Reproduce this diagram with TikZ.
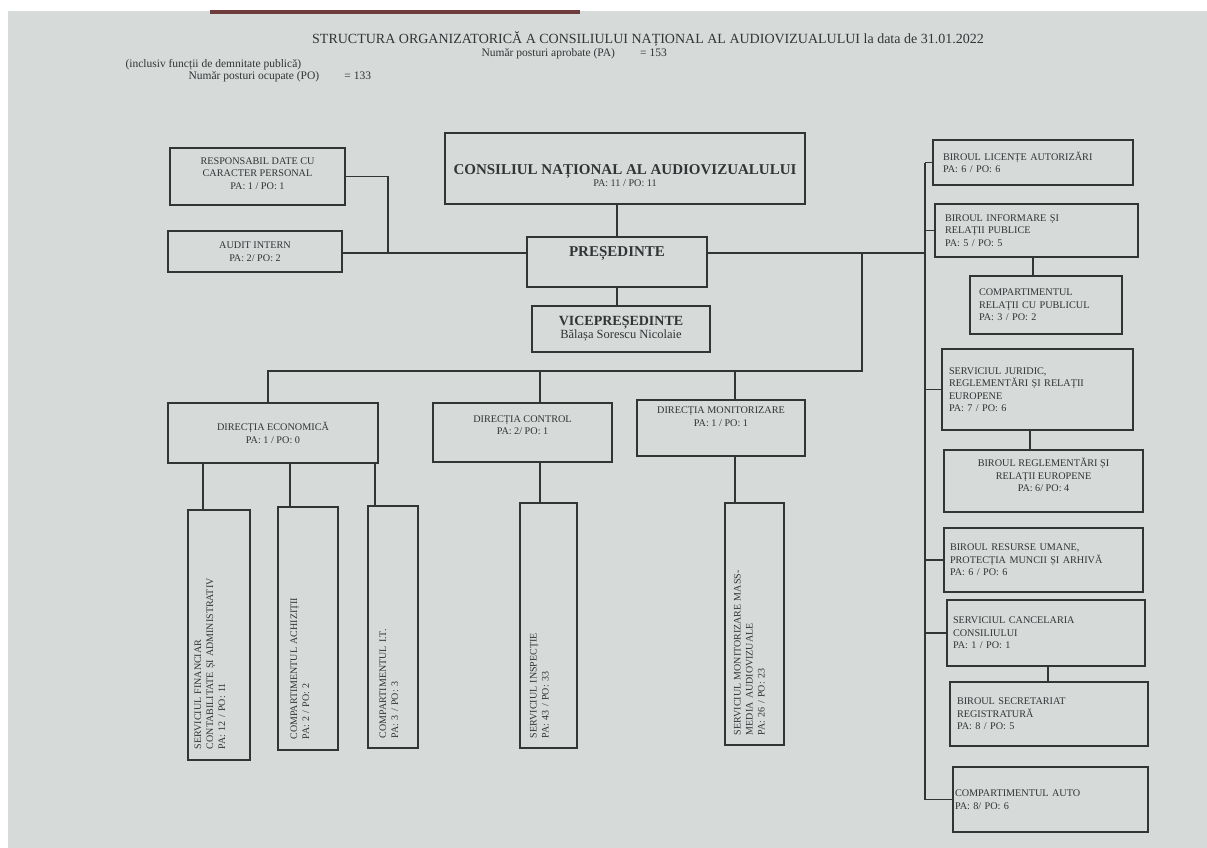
\documentclass[tikz,border=0pt]{standalone}
\usepackage{fontspec}
\setmainfont{Liberation Serif}
\definecolor{paper}{RGB}{214,218,217}
\definecolor{ink}{RGB}{50,52,53}
\definecolor{bar}{RGB}{110,60,60}
\begin{document}
\begin{tikzpicture}[x=1pt,y=-1pt,
  every node/.style={text=ink},
  box/.style={draw=ink,line width=1.1pt,inner sep=0pt,align=center},
  lbox/.style={box,align=left,text width=#1},
  vbox/.style={draw=ink,line width=1.1pt,inner sep=0pt},
  vtext/.style={rotate=90,align=left,inner sep=0pt,font=\fontsize{10}{12}\selectfont},
  small/.style={font=\fontsize{10.2}{12.5}\selectfont},
  head/.style={font=\fontsize{11.5}{13}\selectfont,anchor=west},
  conn/.style={draw=ink,line width=1.1pt}]
\useasboundingbox (0,0) rectangle (1207,848);
\fill[white] (0,0) rectangle (1207,848);
\fill[paper] (8,11) rectangle (1207,848);
\fill[bar] (210,10) rectangle (580,14);
% header
\node[font=\fontsize{14}{16}\selectfont] (title) at (648,39) {STRUCTURA ORGANIZATORICĂ A CONSILIULUI NAȚIONAL AL AUDIOVIZUALULUI la data de 31.01.2022};
\node[head] (pa) at (478,54) {Număr posturi aprobate (PA)\hspace{2.2em}= 153};
\node[head] (incl) at (122,65) {(inclusiv funcții de demnitate publică)};
\node[head] (po) at (185,77) {Număr posturi ocupate (PO)\hspace{2.2em}= 133};
% top boxes
\node[box,small,minimum width=175,minimum height=57] (resp) at (257.5,176.5) {RESPONSABIL DATE CU\\CARACTER PERSONAL\\PA: 1 / PO: 1\\[-6pt]};
\node[box,small,minimum width=174,minimum height=41] (audit) at (255,251.5) {AUDIT INTERN\\PA: 2/ PO: 2};
\node[box,minimum width=360,minimum height=71] (cna) at (625,168.5) {\rule{0pt}{24pt}{\fontsize{15}{17}\selectfont\bfseries CONSILIUL NAȚIONAL AL AUDIOVIZUALULUI}\\{\fontsize{10.2}{12}\selectfont PA: 11 / PO: 11}};
\node[box,minimum width=180,minimum height=50,font=\fontsize{15}{17}\bfseries] (pres) at (617,262) {PREȘEDINTE\\[3pt]};
\node[box,minimum width=178,minimum height=46] (vice) at (621,329) {{\fontsize{14}{15}\selectfont\bfseries VICEPREȘEDINTE}\\{\fontsize{12.5}{14}\selectfont Bălașa Sorescu Nicolaie}};
% directions
\node[box,small,minimum width=210,minimum height=60] (de) at (273,433) {DIRECȚIA ECONOMICĂ\\PA: 1 / PO: 0};
\node[box,small,minimum width=179,minimum height=59] (dc) at (522.5,432.5) {DIRECȚIA CONTROL\\PA: 2/ PO: 1\\[2pt]};
\node[box,small,minimum width=168,minimum height=56] (dm) at (721,428) {DIRECȚIA MONITORIZARE\\PA: 1 / PO: 1\\[10pt]};
% vertical boxes
\node[vbox,minimum width=62,minimum height=250] (sfc) at (219,635) {};
\node[vtext,text width=228] (sfct) at ([xshift=-9pt]sfc.center) {SERVICIUL FINANCIAR\\CONTABILITATE ȘI ADMINISTRATIV\\PA: 12 / PO: 11};
\node[vbox,minimum width=60,minimum height=243] (ach) at (308,628.5) {};
\node[vtext,text width=222] (acht) at ([xshift=-8pt]ach.center) {COMPARTIMENTUL ACHIZIȚII\\PA: 2 / PO: 2};
\node[vbox,minimum width=50,minimum height=242] (it) at (393,627) {};
\node[vtext,text width=222] (itt) at ([xshift=-4pt]it.center) {COMPARTIMENTUL I.T.\\PA: 3 / PO: 3};
\node[vbox,minimum width=57,minimum height=245] (insp) at (548.5,625.5) {};
\node[vtext,text width=225] (inspt) at ([xshift=-9pt]insp.center) {SERVICIUL INSPECȚIE\\PA: 43 / PO: 33};
\node[vbox,minimum width=59,minimum height=242] (mon) at (754.5,624) {};
\node[vtext,text width=222] (mont) at ([xshift=-5pt]mon.center) {SERVICIUL MONITORIZARE MASS-\\MEDIA AUDIOVIZUALE\\PA: 26 / PO: 23};
% right column
\node[lbox=180,small,minimum height=45,inner xsep=10pt] (lic) at (1033,162.5) {BIROUL LICENȚE AUTORIZĂRI\\PA: 6 / PO: 6\\[4pt]};
\node[lbox=183,small,minimum height=53,inner xsep=10pt] (inf) at (1036.5,230.5) {BIROUL INFORMARE ȘI\\RELAȚII PUBLICE\\PA: 5 / PO: 5\\[-4pt]};
\node[lbox=134,small,minimum height=58,inner xsep=9pt] (crp) at (1046,305) {COMPARTIMENTUL\\RELAȚII CU PUBLICUL\\PA: 3 / PO: 2};
\node[lbox=177,small,minimum height=81,inner xsep=7pt] (jur) at (1037.5,389.5) {SERVICIUL JURIDIC,\\REGLEMENTĂRI ȘI RELAȚII\\EUROPENE\\PA: 7 / PO: 6\\[6pt]};
\node[box,small,minimum width=199,minimum height=62] (brr) at (1043.5,481) {BIROUL REGLEMENTĂRI ȘI\\RELAȚII EUROPENE\\PA: 6/ PO: 4\\[0pt]};
\node[lbox=187,small,minimum height=64,inner xsep=6pt] (rum) at (1043.5,560) {BIROUL RESURSE UMANE,\\PROTECȚIA MUNCII ȘI ARHIVĂ\\PA: 6 / PO: 6\\[0pt]};
\node[lbox=186,small,minimum height=66,inner xsep=6pt] (can) at (1046,633) {SERVICIUL CANCELARIA\\CONSILIULUI\\PA: 1 / PO: 1};
\node[lbox=184,small,minimum height=64,inner xsep=7pt] (sec) at (1049,714) {BIROUL SECRETARIAT\\REGISTRATURĂ\\PA: 8 / PO: 5\\[-6pt]};
\node[lbox=191,small,minimum height=65,inner xsep=2pt] (auto) at (1050.5,799.5) {COMPARTIMENTUL AUTO\\PA: 8/ PO: 6};
% junction coordinates
\coordinate (pl) at ([yshift=9pt]pres.west);
\coordinate (pr) at ([yshift=9pt]pres.east);
\coordinate (j1) at (388,253);
\coordinate (dj) at (862,253);
\coordinate (dh) at (862,371);
\coordinate (rbus) at (925,253);
% connectors
\draw[conn] (cna.south -| pres.north) -- (pres.north);
\draw[conn] (pres.south) -- (pres.south |- vice.north);
\draw[conn] (pl) -- (pl -| audit.east);
\draw[conn] (resp.east) -| (j1);
\draw[conn] (pr) -- (rbus);
\draw[conn] (dj) -- (dh) -- (dh -| 268,0) -- (de.north -| 268,0);
\draw[conn] (dh -| 540,0) -- (dc.north -| 540,0);
\draw[conn] (dh -| 735,0) -- (dm.north -| 735,0);
\draw[conn] (de.south -| 203,0) -- (sfc.north -| 203,0);
\draw[conn] (de.south -| 290,0) -- (ach.north -| 290,0);
\draw[conn] (de.south -| 375,0) -- (it.north -| 375,0);
\draw[conn] (dc.south -| 540,0) -- (insp.north -| 540,0);
\draw[conn] (dm.south -| 735,0) -- (mon.north -| 735,0);
\draw[conn] (lic.west -| rbus) -- (auto.west -| rbus);
\draw[conn] (lic.west) -- (lic.west -| rbus);
\draw[conn] (inf.west) -- (inf.west -| rbus);
\draw[conn] (jur.west) -- (jur.west -| rbus);
\draw[conn] (rum.west) -- (rum.west -| rbus);
\draw[conn] (can.west) -- (can.west -| rbus);
\draw[conn] (auto.west) -- (auto.west -| rbus);
\draw[conn] (inf.south -| 1033,0) -- (crp.north -| 1033,0);
\draw[conn] (jur.south -| 1030,0) -- (brr.north -| 1030,0);
\draw[conn] (can.south -| 1048,0) -- (sec.north -| 1048,0);
\end{tikzpicture}
\end{document}
